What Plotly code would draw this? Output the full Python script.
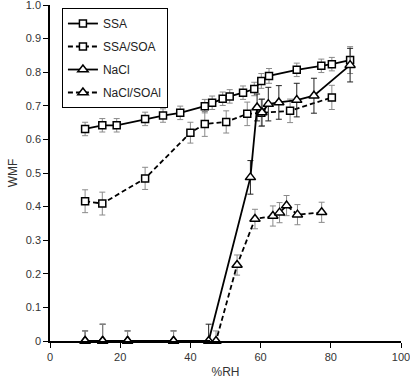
import plotly.graph_objects as go

# SSA (solid line, open squares)
ssa_x = [10.0, 14.9, 19.0, 27.1, 32.2, 37.1, 44.1, 46.2, 49.2, 51.2, 55.0, 58.2, 60.2, 62.4, 70.3, 77.3, 80.3, 85.5]
ssa_y = [0.631, 0.642, 0.642, 0.661, 0.671, 0.679, 0.699, 0.709, 0.721, 0.728, 0.739, 0.750, 0.774, 0.789, 0.807, 0.819, 0.824, 0.836]
ssa_err = [0.02, 0.02, 0.02, 0.02, 0.02, 0.02, 0.02, 0.02, 0.02, 0.02, 0.02, 0.02, 0.022, 0.022, 0.02, 0.02, 0.02, 0.04]

# SSA/SOA (dashed line, open squares)
ssasoa_x = [10.0, 14.9, 27.1, 40.0, 44.1, 50.2, 56.2, 60.2, 68.4, 80.3]
ssasoa_y = [0.416, 0.409, 0.484, 0.620, 0.646, 0.652, 0.676, 0.679, 0.685, 0.725]
ssasoa_err = [0.034, 0.034, 0.033, 0.031, 0.037, 0.033, 0.035, 0.04, 0.035, 0.036]

# NaCl (solid line, open triangles)
nacl_x = [10.0, 15.0, 22.1, 35.2, 45.2, 57.1, 59.0, 60.4, 62.2, 65.2, 70.3, 75.2, 85.5]
nacl_y = [0.0, 0.0, 0.0, 0.0, 0.0, 0.487, 0.695, 0.680, 0.705, 0.710, 0.717, 0.730, 0.821]
nacl_err_up = [0.03, 0.05, 0.03, 0.03, 0.05, 0.05, 0.04, 0.04, 0.05, 0.05, 0.05, 0.052, 0.05]
nacl_err_dn = [0.0, 0.0, 0.0, 0.0, 0.0, 0.05, 0.04, 0.04, 0.05, 0.05, 0.05, 0.052, 0.05]

# NaCl/SOA (dashed line, open triangles)
naclsoa_x = [10.0, 15.0, 22.1, 35.2, 47.3, 53.3, 58.4, 63.5, 65.4, 67.4, 70.5, 77.4]
naclsoa_y = [0.0, 0.0, 0.0, 0.0, 0.0, 0.226, 0.363, 0.372, 0.382, 0.403, 0.376, 0.383]
naclsoa_err_up = [0.03, 0.05, 0.03, 0.03, 0.03, 0.03, 0.029, 0.03, 0.03, 0.03, 0.03, 0.03]
naclsoa_err_dn = [0.0, 0.0, 0.0, 0.0, 0.0, 0.03, 0.029, 0.03, 0.03, 0.03, 0.03, 0.03]

y_ticks = [0, 0.1, 0.2, 0.3, 0.4, 0.5, 0.6, 0.7, 0.8, 0.9, 1.0]
y_ticktext = ["0", "0.1", "0.2", "0.3", "0.4", "0.5", "0.6", "0.7", "0.8", "0.9", "1.0"]
x_ticks = [0, 20, 40, 60, 80, 100]

DASH = "5px,3px"
GRAY = "#8a8a8a"

fig = go.Figure()

def add(name, x, y, up, dn, dash, symbol, ecol, size, group):
    err = dict(type="data", array=up, color=ecol, thickness=1, width=3)
    if dn is None:
        err["symmetric"] = True
    else:
        err["symmetric"] = False
        err["arrayminus"] = dn
    fig.add_trace(go.Scatter(
        x=x, y=y, name=name, mode="lines+markers", legendgroup=group,
        line=dict(color="black", width=1.8, dash=dash),
        marker=dict(symbol=symbol, size=size, color="white",
                    line=dict(color="black", width=1.5)),
        error_y=err,
        cliponaxis=False,
    ))

add("SSA", ssa_x, ssa_y, ssa_err, None, "solid", "square", GRAY, 7, "a")
add("SSA/SOA", ssasoa_x, ssasoa_y, ssasoa_err, None, DASH, "square", GRAY, 7, "b")
add("NaCl", nacl_x, nacl_y, nacl_err_up, nacl_err_dn, "solid", "triangle-up", "#222222", 9, "c")
add("NaCl/SOAl", naclsoa_x, naclsoa_y, naclsoa_err_up, naclsoa_err_dn, DASH, "triangle-up", GRAY, 9, "d")

fig.update_layout(
    width=410, height=383,
    margin=dict(l=50, r=9, t=5, b=42, autoexpand=False),
    paper_bgcolor="white", plot_bgcolor="white",
    font=dict(family="Liberation Sans, Arial, sans-serif", size=12, color="#333333"),
    showlegend=True,
    legend=dict(x=0.034, y=0.991, xanchor="left", yanchor="top",
                bordercolor="black", borderwidth=1, bgcolor="white",
                traceorder="grouped", tracegroupgap=4,
                font=dict(size=12, color="#222222")),
    xaxis=dict(range=[0, 100], tickvals=x_ticks, showgrid=False, zeroline=False,
               showline=True, linecolor="black", linewidth=1.5, automargin=False,
               ticks="outside", ticklen=5, tickcolor="black", ticklabeloverflow="allow",
               title=dict(text="%RH", standoff=6, font=dict(size=12)),
               tickfont=dict(size=11)),
    yaxis=dict(range=[0, 1.0], tickvals=y_ticks, ticktext=y_ticktext, showgrid=False, zeroline=False,
               showline=True, linecolor="black", linewidth=1.5, automargin=False,
               ticks="outside", ticklen=5, tickcolor="black", ticklabeloverflow="allow",
               title=dict(text="WMF", standoff=6, font=dict(size=12)),
               tickfont=dict(size=11)),
)

fig.write_html("out.html", config={"displayModeBar": False},
               post_script="document.body.style.margin='0px';document.body.style.overflow='hidden';")
